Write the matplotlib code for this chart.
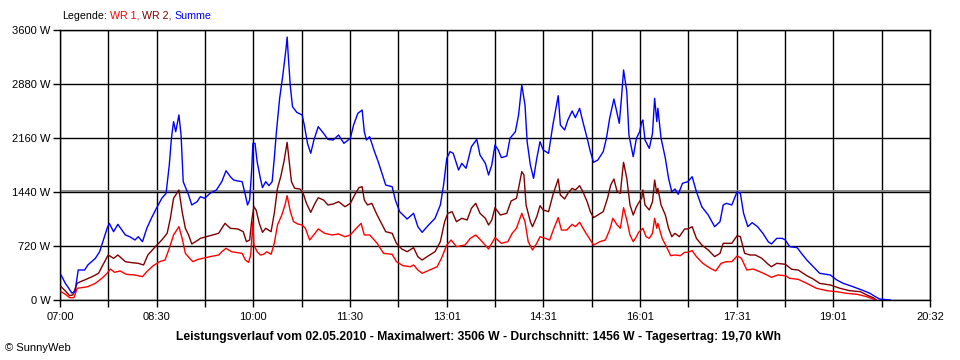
import matplotlib
matplotlib.use('Agg')
import matplotlib.pyplot as plt
import numpy as np

plt.rcParams['font.family'] = ['Liberation Sans', 'DejaVu Sans']

# minutes after 07:00, power in W
t_wr1 = [1, 5, 9, 13, 16, 20, 26, 33, 39, 44, 47, 51, 56, 62, 70, 77, 81, 87, 93, 98,
         102, 106, 109, 111, 114, 117, 121, 124, 129, 140, 148, 151, 155, 160, 170, 173,
         176, 178, 180, 181, 184, 187, 190, 193, 197, 200, 203, 207, 210, 212, 215, 218,
         222, 226, 229, 233, 238, 241, 247, 254, 260, 266, 271, 275, 281, 284, 289, 296,
         302, 310, 314, 320, 327, 330, 334, 338, 345, 352, 356, 361, 365, 370, 378, 383,
         388, 394, 400, 406, 412, 418, 422, 426, 431, 434, 437, 441, 445, 448, 453, 457,
         461, 465, 468, 473, 478, 481, 485, 490, 495, 498, 504, 509, 513, 516, 520, 523,
         526, 529, 532, 535, 538, 540, 544, 547, 550, 553, 555, 557, 558, 562, 566, 570,
         574, 579, 583, 586, 590, 594, 600, 607, 612, 617, 622, 627, 632, 636, 641, 647,
         653, 660, 664, 670, 677, 681, 689, 697, 706, 716, 725, 734, 744, 753, 759, 761]
p_wr1 = [111, 76, 31, 31, 156, 164, 178, 222, 289, 356, 413, 369, 387, 342, 333, 311, 378,
         458, 511, 533, 689, 867, 933, 978, 822, 622, 556, 511, 542, 578, 600, 644, 689,
         644, 622, 533, 502, 600, 1044, 733, 644, 600, 609, 644, 609, 756, 1000, 1133, 1267,
         1391, 1178, 1044, 1013, 1000, 956, 800, 889, 947, 889, 867, 880, 844, 867, 933,
         1022, 867, 867, 756, 622, 609, 511, 458, 444, 467, 400, 356, 400, 444, 556, 733,
         800, 711, 733, 822, 867, 778, 680, 831, 756, 778, 889, 956, 1156, 1044, 778, 667,
         756, 844, 822, 800, 956, 1098, 933, 933, 1009, 978, 1036, 911, 800, 733, 778, 800,
         933, 1089, 1000, 956, 1231, 1067, 867, 778, 844, 902, 956, 844, 822, 889, 1089,
         956, 1022, 822, 711, 591, 600, 591, 636, 636, 658, 578, 489, 422, 387, 489, 511,
         511, 587, 556, 400, 413, 378, 333, 302, 333, 324, 289, 276, 222, 156, 124, 111,
         89, 76, 44, 13, 0]

t_wr2 = [1, 5, 9, 12, 16, 19, 23, 30, 36, 40, 45, 50, 54, 61, 67, 73, 78, 82, 89, 95,
         100, 103, 106, 109, 111, 114, 117, 120, 123, 129, 131, 140, 148, 151, 154, 159,
         166, 171, 174, 177, 179, 181, 183, 186, 189, 192, 197, 200, 203, 206, 209, 212,
         214, 216, 219, 224, 227, 230, 234, 238, 241, 246, 250, 255, 260, 266, 271, 275,
         279, 282, 284, 287, 291, 296, 300, 304, 310, 314, 319, 324, 330, 334, 338, 344,
         350, 355, 359, 362, 366, 370, 375, 380, 384, 388, 392, 397, 400, 403, 406, 411,
         417, 421, 426, 428, 431, 433, 435, 439, 441, 445, 448, 451, 456, 460, 465, 467,
         471, 474, 478, 481, 485, 488, 492, 495, 498, 502, 507, 511, 514, 517, 520, 523,
         525, 526, 529, 532, 535, 538, 543, 544, 546, 550, 553, 555, 557, 558, 561, 565,
         568, 571, 574, 578, 583, 586, 590, 594, 599, 605, 611, 616, 619, 624, 627, 632,
         635, 639, 644, 649, 655, 661, 664, 669, 677, 683, 689, 697, 703, 709, 719, 728,
         737, 747, 753, 759, 762]
p_wr2 = [178, 120, 58, 67, 222, 244, 267, 311, 356, 467, 600, 556, 600, 511, 498, 489,
         467, 600, 711, 800, 889, 1089, 1356, 1422, 1467, 1178, 956, 867, 747, 800, 822,
         858, 889, 956, 1022, 956, 947, 911, 778, 800, 1067, 1244, 1200, 1022, 902, 956,
         911, 1156, 1489, 1644, 1844, 2102, 1844, 1578, 1489, 1480, 1422, 1289, 1169, 1289,
         1364, 1333, 1267, 1280, 1311, 1244, 1289, 1400, 1498, 1511, 1333, 1267, 1289,
         1133, 1022, 911, 889, 756, 680, 644, 698, 578, 533, 591, 644, 778, 1044, 1156,
         1178, 1044, 1089, 1067, 1222, 1289, 1156, 1089, 1000, 1067, 1231, 1133, 1156,
         1320, 1356, 1489, 1711, 1667, 1267, 1044, 978, 1111, 1258, 1200, 1178, 1400, 1613,
         1400, 1347, 1422, 1489, 1467, 1524, 1444, 1311, 1178, 1098, 1133, 1178, 1356, 1533,
         1613, 1444, 1422, 1711, 1836, 1622, 1267, 1133, 1244, 1364, 1467, 1267, 1200, 1311,
         1600, 1422, 1489, 1267, 1133, 956, 844, 889, 844, 947, 947, 978, 822, 733, 667,
         578, 622, 756, 756, 756, 858, 844, 622, 600, 600, 556, 476, 444, 489, 476, 409,
         400, 324, 280, 222, 200, 156, 124, 111, 67, 31, 0]

t_sum = [1, 5, 8, 11, 14, 17, 23, 26, 33, 37, 40, 44, 46, 50, 54, 61, 65, 70, 73, 77,
         81, 86, 90, 95, 99, 102, 104, 106, 108, 111, 113, 115, 120, 123, 128, 131, 135,
         140, 146, 151, 155, 159, 162, 166, 170, 173, 175, 177, 179, 180, 182, 184, 187,
         189, 192, 195, 198, 200, 202, 205, 208, 211, 212, 213, 215, 217, 221, 226, 228,
         231, 234, 237, 241, 246, 250, 255, 260, 265, 271, 274, 278, 282, 284, 286, 289,
         293, 297, 301, 304, 310, 313, 317, 324, 330, 334, 338, 344, 350, 355, 358, 361,
         364, 367, 372, 375, 379, 384, 389, 392, 397, 400, 403, 406, 409, 412, 417, 420,
         425, 428, 431, 434, 436, 439, 442, 445, 448, 451, 456, 460, 465, 467, 471, 474,
         478, 481, 485, 488, 492, 495, 498, 502, 507, 510, 513, 517, 520, 522, 524, 526,
         529, 531, 535, 538, 541, 543, 544, 546, 550, 553, 555, 557, 558, 561, 565, 568,
         571, 574, 577, 581, 586, 590, 594, 599, 605, 611, 616, 619, 622, 627, 632, 635,
         638, 642, 646, 651, 656, 661, 664, 669, 674, 677, 681, 688, 692, 697, 703, 709,
         719, 725, 731, 740, 750, 756, 761, 765, 775]
p_sum = [333, 222, 160, 93, 111, 400, 400, 467, 556, 644, 778, 956, 1022, 911, 1009, 867,
         844, 800, 844, 778, 956, 1111, 1222, 1356, 1422, 1800, 2156, 2378, 2244, 2467,
         2200, 1578, 1400, 1267, 1311, 1378, 1356, 1422, 1467, 1578, 1724, 1644, 1600, 1587,
         1578, 1400, 1267, 1333, 1756, 2089, 2089, 1844, 1622, 1498, 1578, 1524, 1578, 1889,
         2244, 2689, 3000, 3356, 3506, 3267, 2844, 2578, 2502, 2467, 2333, 2089, 1956, 2133,
         2311, 2222, 2142, 2133, 2200, 2089, 2156, 2333, 2489, 2533, 2244, 2133, 2178, 2000,
         1844, 1667, 1533, 1511, 1333, 1178, 1080, 1156, 978, 902, 1000, 1089, 1267, 1533,
         1889, 1978, 1956, 1733, 1822, 1756, 2044, 2142, 1933, 1822, 1667, 1800, 2067, 2000,
         1898, 1920, 2156, 2244, 2467, 2867, 2600, 2111, 1800, 1622, 1889, 2111, 2000, 1956,
         2333, 2724, 2333, 2267, 2400, 2520, 2431, 2556, 2378, 2156, 1978, 1836, 1867, 1978,
         2156, 2422, 2680, 2489, 2356, 2689, 3067, 2778, 2200, 1911, 2156, 2244, 2378, 2400,
         2133, 2022, 2222, 2689, 2378, 2556, 2156, 1889, 1622, 1444, 1480, 1409, 1556, 1578,
         1644, 1444, 1244, 1133, 978, 1044, 1267, 1289, 1267, 1444, 1422, 1156, 978, 1031,
         978, 889, 778, 747, 822, 822, 800, 711, 698, 622, 533, 444, 356, 333, 267, 222, 178,
         124, 89, 44, 13, 0]

average = 1456
x_labels = ['07:00', '08:30', '10:00', '11:30', '13:01', '14:31', '16:01', '17:31', '19:01', '20:32']
y_ticks = [0, 720, 1440, 2160, 2880, 3600]
span = 812  # 07:00 .. 20:32

fig = plt.figure(figsize=(9.6, 3.6), dpi=100)
ax = fig.add_axes([60 / 960, 1 - 300 / 360, 870 / 960, 270 / 360])

# 18 grid columns, labels on every other one
grid_x = np.linspace(0, span, 19)
for gx in grid_x:
    ax.axvline(gx, color='black', lw=1, zorder=1)
for gy in y_ticks:
    ax.axhline(gy, color='black', lw=1, zorder=1)
ax.axhline(average, color='#808080', lw=1.3, zorder=2)

ax.plot(t_wr1, p_wr1, color='#ff0000', lw=1, zorder=3)
ax.plot(t_wr2, p_wr2, color='#800000', lw=1, zorder=4)
ax.plot(t_sum, p_sum, color='#0000ff', lw=1, zorder=5)

ax.set_xlim(0, span)
ax.set_ylim(0, 3600)
ax.set_xticks(grid_x)
ax.set_xticklabels([x_labels[k // 2] if k % 2 == 0 else '' for k in range(19)])
ax.set_yticks(y_ticks)
ax.set_yticklabels(['{} W'.format(v) for v in y_ticks])
ax.tick_params(axis='both', direction='out', length=5, width=1, color='black',
               labelsize=8, pad=2)
ax.tick_params(axis='x', pad=4)
for s in ax.spines.values():
    s.set_color('black')
    s.set_linewidth(1)

fig.text(479 / 960, 1 - 337 / 360,
         'Leistungsverlauf vom 02.05.2010 - Maximalwert: 3506 W - Durchschnitt: 1456 W - Tagesertrag: 19,70 kWh',
         ha='center', va='center', fontsize=8.7, fontweight='bold')
fig.text(5 / 960, 1 - 348 / 360, '\u00a9 SunnyWeb', fontsize=8, va='center')

# legend at the top left, coloured word by word
fig.canvas.draw()
r = fig.canvas.get_renderer()
parts = [('Legende:', 'black'), ('WR 1,', '#ff0000'), ('WR 2,', '#800000'), ('Summe', '#0000ff')]
lx = 62
for s, c in parts:
    t = fig.text(lx / 960, 1 - 16 / 360, s, color=c, fontsize=7.7, va='center')
    lx += t.get_window_extent(r).width + 3

fig.savefig('out.png', dpi=100)
